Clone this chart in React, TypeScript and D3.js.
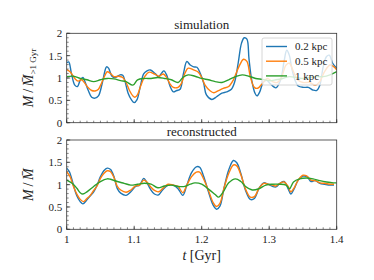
import React, { useEffect, useRef } from "react";
import * as d3 from "d3";

// [t in Gyr, M / mean M]
const simBlue: [number, number][] = [
  [1.0, 1.34], [1.003, 1.36], [1.007, 1.1], [1.012, 0.84], [1.016, 0.81], [1.02, 0.95], [1.024, 1.01],
  [1.027, 0.92], [1.032, 0.72], [1.037, 0.57], [1.042, 0.55], [1.047, 0.6], [1.052, 0.84], [1.057, 1.18],
  [1.059, 1.25], [1.062, 1.22], [1.067, 1.04], [1.072, 1.01], [1.079, 1.07], [1.083, 1.06], [1.086, 0.95],
  [1.091, 0.66], [1.096, 0.51], [1.1, 0.45], [1.104, 0.51], [1.109, 0.81], [1.114, 1.09], [1.119, 1.16],
  [1.124, 1.18], [1.131, 1.1], [1.136, 1.03], [1.141, 1.12], [1.144, 1.16], [1.148, 1.07], [1.153, 0.82],
  [1.158, 0.69], [1.163, 0.72], [1.168, 0.75], [1.173, 1.1], [1.178, 1.37], [1.183, 1.29], [1.188, 1.25],
  [1.193, 1.24], [1.198, 1.1], [1.203, 0.88], [1.207, 0.62], [1.215, 0.52], [1.222, 0.58], [1.23, 0.66],
  [1.237, 0.69], [1.244, 0.75], [1.249, 0.92], [1.254, 1.33], [1.259, 1.78], [1.263, 1.9], [1.267, 1.87],
  [1.27, 1.44], [1.274, 0.96], [1.279, 0.66], [1.282, 0.6], [1.286, 0.69], [1.291, 0.9], [1.296, 0.95],
  [1.301, 0.88], [1.31, 0.78], [1.317, 0.96], [1.322, 1.37], [1.326, 1.62], [1.33, 1.5], [1.333, 1.25],
  [1.338, 0.96], [1.343, 0.82], [1.351, 0.79], [1.358, 0.79], [1.365, 0.73], [1.37, 0.72], [1.375, 0.84],
  [1.38, 1.25], [1.385, 1.48], [1.389, 1.51], [1.394, 1.33], [1.4, 1.22],
];
const simOrange: [number, number][] = [
  [1.0, 1.19], [1.005, 1.14], [1.012, 0.99], [1.017, 0.93], [1.022, 0.96], [1.027, 0.88], [1.032, 0.78],
  [1.037, 0.72], [1.042, 0.71], [1.047, 0.75], [1.052, 0.9], [1.057, 1.07], [1.06, 1.14], [1.065, 1.1],
  [1.07, 1.03], [1.077, 1.04], [1.083, 1.01], [1.088, 0.9], [1.093, 0.72], [1.098, 0.6], [1.101, 0.57],
  [1.105, 0.63], [1.11, 0.84], [1.116, 1.04], [1.122, 1.13], [1.13, 1.09], [1.137, 1.04], [1.143, 1.09],
  [1.148, 1.01], [1.153, 0.87], [1.158, 0.79], [1.165, 0.79], [1.17, 0.88], [1.175, 1.1], [1.18, 1.22],
  [1.188, 1.18], [1.195, 1.13], [1.2, 1.01], [1.205, 0.84], [1.212, 0.72], [1.218, 0.67], [1.225, 0.72],
  [1.232, 0.77], [1.24, 0.81], [1.247, 0.96], [1.255, 1.25], [1.262, 1.42], [1.267, 1.37], [1.272, 1.03],
  [1.278, 0.79], [1.283, 0.77], [1.29, 0.88], [1.297, 0.99], [1.305, 0.92], [1.312, 0.9], [1.318, 1.01],
  [1.325, 1.29], [1.33, 1.33], [1.336, 1.14], [1.342, 0.96], [1.35, 0.9], [1.36, 0.9], [1.368, 0.84],
  [1.375, 0.92], [1.382, 1.14], [1.39, 1.29], [1.396, 1.25], [1.4, 1.18],
];
const simGreen: [number, number][] = [
  [1.0, 1.03], [1.01, 1.04], [1.02, 0.99], [1.03, 0.96], [1.04, 0.92], [1.05, 0.96], [1.06, 0.99],
  [1.07, 0.98], [1.08, 0.94], [1.088, 0.92], [1.098, 0.84], [1.105, 0.96], [1.115, 0.99], [1.125, 0.99],
  [1.135, 1.01], [1.145, 0.99], [1.155, 0.96], [1.165, 0.9], [1.172, 1.01], [1.18, 1.07], [1.19, 1.04],
  [1.2, 0.99], [1.21, 0.96], [1.22, 0.92], [1.23, 0.9], [1.24, 0.96], [1.25, 1.03], [1.26, 1.07],
  [1.27, 1.04], [1.28, 0.99], [1.29, 0.97], [1.3, 0.94], [1.31, 0.96], [1.32, 0.99], [1.33, 1.03],
  [1.34, 1.01], [1.35, 0.99], [1.36, 1.01], [1.37, 1.03], [1.38, 1.03], [1.39, 1.07], [1.4, 1.14],
];

const recBlue: [number, number][] = [
  [1.0, 1.37], [1.004, 1.29], [1.01, 0.99], [1.015, 0.75], [1.02, 0.62], [1.024, 0.57], [1.03, 0.66],
  [1.035, 0.75], [1.04, 0.84], [1.045, 0.99], [1.05, 1.18], [1.055, 1.31], [1.06, 1.37], [1.065, 1.34],
  [1.07, 1.18], [1.075, 0.91], [1.08, 0.81], [1.088, 0.76], [1.095, 0.84], [1.102, 0.96], [1.108, 0.99],
  [1.114, 1.14], [1.118, 1.07], [1.124, 0.9], [1.13, 0.79], [1.136, 0.77], [1.142, 0.88], [1.15, 0.99],
  [1.158, 0.99], [1.165, 0.91], [1.172, 0.76], [1.178, 0.99], [1.185, 1.27], [1.192, 1.4], [1.197, 1.39],
  [1.203, 1.18], [1.21, 0.84], [1.217, 0.54], [1.222, 0.45], [1.227, 0.52], [1.233, 0.92], [1.24, 1.33],
  [1.247, 1.54], [1.252, 1.49], [1.258, 1.25], [1.265, 0.87], [1.272, 0.67], [1.278, 0.69], [1.285, 0.92],
  [1.292, 1.04], [1.298, 1.01], [1.305, 0.96], [1.31, 0.95], [1.316, 1.03], [1.322, 1.07], [1.328, 0.91],
  [1.332, 0.79], [1.337, 0.91], [1.343, 1.1], [1.35, 1.19], [1.356, 1.18], [1.362, 1.07], [1.368, 1.09],
  [1.375, 1.03], [1.382, 1.01], [1.39, 0.99], [1.396, 0.99],
];
const recOrange: [number, number][] = [
  [1.0, 1.29], [1.005, 1.18], [1.01, 0.96], [1.015, 0.79], [1.02, 0.67], [1.025, 0.62], [1.03, 0.69],
  [1.035, 0.76], [1.04, 0.87], [1.045, 0.97], [1.05, 1.14], [1.055, 1.25], [1.06, 1.31], [1.065, 1.29],
  [1.07, 1.16], [1.075, 0.96], [1.08, 0.88], [1.088, 0.83], [1.095, 0.88], [1.102, 0.97], [1.108, 0.99],
  [1.114, 1.1], [1.118, 1.07], [1.124, 0.96], [1.13, 0.87], [1.136, 0.84], [1.142, 0.91], [1.15, 1.01],
  [1.158, 0.99], [1.165, 0.96], [1.172, 0.82], [1.178, 0.99], [1.185, 1.18], [1.192, 1.28], [1.197, 1.28],
  [1.203, 1.12], [1.21, 0.87], [1.217, 0.6], [1.222, 0.51], [1.227, 0.58], [1.233, 0.92], [1.24, 1.25],
  [1.247, 1.44], [1.252, 1.42], [1.258, 1.22], [1.265, 0.9], [1.272, 0.72], [1.278, 0.73], [1.285, 0.92],
  [1.292, 1.03], [1.298, 1.01], [1.305, 0.99], [1.31, 0.97], [1.316, 1.03], [1.322, 1.06], [1.328, 0.96],
  [1.332, 0.84], [1.337, 0.93], [1.343, 1.1], [1.35, 1.21], [1.356, 1.19], [1.362, 1.1], [1.368, 1.09],
  [1.375, 1.04], [1.382, 1.03], [1.39, 1.01], [1.396, 1.01],
];
const recGreen: [number, number][] = [
  [1.0, 1.1], [1.008, 1.03], [1.015, 0.92], [1.02, 0.82], [1.024, 0.79], [1.03, 0.84], [1.04, 0.96],
  [1.05, 1.07], [1.06, 1.13], [1.065, 1.12], [1.075, 1.07], [1.085, 1.03], [1.095, 0.99], [1.105, 1.01],
  [1.115, 1.03], [1.125, 1.01], [1.135, 0.93], [1.145, 0.97], [1.155, 0.99], [1.165, 0.96], [1.175, 0.96],
  [1.183, 1.01], [1.19, 1.04], [1.2, 1.01], [1.21, 0.9], [1.22, 0.78], [1.225, 0.72], [1.232, 0.84],
  [1.24, 1.04], [1.25, 1.13], [1.258, 1.07], [1.265, 0.96], [1.275, 0.88], [1.285, 0.91], [1.295, 0.99],
  [1.305, 1.01], [1.315, 1.01], [1.325, 0.99], [1.33, 0.91], [1.336, 1.06], [1.345, 1.13], [1.355, 1.15],
  [1.365, 1.13], [1.375, 1.09], [1.385, 1.06], [1.395, 1.04], [1.4, 1.04],
];

const seriesNames = ["0.2 kpc", "0.5 kpc", "1 kpc"];
const colors = ["#1f77b4", "#ff7f0e", "#2ca02c"];
const xTicks = [1, 1.1, 1.2, 1.3, 1.4];
const yTicks = [0, 0.5, 1, 1.5, 2];

const FONT = "'Liberation Serif', 'DejaVu Serif', serif";

const App = () => {
  const ref = useRef<SVGSVGElement>(null);

  useEffect(() => {
    const svg = d3.select(ref.current);
    svg.selectAll("*").remove();

    const left = 66.7;
    const right = 336.7;
    const x = d3.scaleLinear().domain([1, 1.4]).range([left, right]);

    const panels = [
      { top: 33.3, bottom: 122.7, title: "simulation", data: [simBlue, simOrange, simGreen], labels: false },
      { top: 140, bottom: 229.3, title: "reconstructed", data: [recBlue, recOrange, recGreen], labels: true },
    ];

    panels.forEach((p, pi) => {
      const y = d3.scaleLinear().domain([0, 2]).range([p.bottom, p.top]);
      const g = svg.append("g");

      g.append("clipPath")
        .attr("id", "clip" + pi)
        .append("rect")
        .attr("x", left)
        .attr("y", p.top)
        .attr("width", right - left)
        .attr("height", p.bottom - p.top);

      const line = d3
        .line<[number, number]>()
        .x((d) => x(d[0]))
        .y((d) => y(d[1]))
        .curve(d3.curveCatmullRom.alpha(0.5));

      p.data.forEach((s, i) => {
        g.append("path")
          .attr("d", line(s))
          .attr("fill", "none")
          .attr("stroke", colors[i])
          .attr("stroke-width", 1.4)
          .attr("clip-path", `url(#clip${pi})`);
      });

      // minor + major ticks, pointing inward
      const xMinor = d3.range(1, 1.4001, 0.01);
      g.selectAll(".xminor")
        .data(xMinor)
        .enter()
        .append("line")
        .attr("x1", (d) => x(d))
        .attr("x2", (d) => x(d))
        .attr("y1", p.bottom)
        .attr("y2", p.bottom - 2)
        .attr("stroke", "#333")
        .attr("stroke-width", 0.6);
      g.selectAll(".xmajor")
        .data(xTicks)
        .enter()
        .append("line")
        .attr("x1", (d) => x(d))
        .attr("x2", (d) => x(d))
        .attr("y1", p.bottom)
        .attr("y2", p.bottom - 3.5)
        .attr("stroke", "#333")
        .attr("stroke-width", 0.8);

      const yMinor = d3.range(0, 2.001, 0.1);
      g.selectAll(".yminor")
        .data(yMinor)
        .enter()
        .append("line")
        .attr("x1", left)
        .attr("x2", left + 2)
        .attr("y1", (d) => y(d))
        .attr("y2", (d) => y(d))
        .attr("stroke", "#333")
        .attr("stroke-width", 0.6);
      g.selectAll(".ymajor")
        .data(yTicks)
        .enter()
        .append("line")
        .attr("x1", left)
        .attr("x2", left + 3.5)
        .attr("y1", (d) => y(d))
        .attr("y2", (d) => y(d))
        .attr("stroke", "#333")
        .attr("stroke-width", 0.8);

      g.selectAll(".ylab")
        .data(yTicks)
        .enter()
        .append("text")
        .attr("x", left - 4.5)
        .attr("y", (d) => y(d))
        .attr("dy", "0.35em")
        .attr("text-anchor", "end")
        .attr("font-family", FONT)
        .attr("font-size", 11)
        .attr("fill", "#222")
        .text((d) => d3.format("")(d));

      if (p.labels) {
        g.selectAll(".xlab")
          .data(xTicks)
          .enter()
          .append("text")
          .attr("x", (d) => x(d))
          .attr("y", p.bottom + 14)
          .attr("text-anchor", "middle")
          .attr("font-family", FONT)
          .attr("font-size", 11)
          .attr("fill", "#222")
          .text((d) => d3.format("")(d));
      }

      g.append("rect")
        .attr("x", left)
        .attr("y", p.top)
        .attr("width", right - left)
        .attr("height", p.bottom - p.top)
        .attr("fill", "none")
        .attr("stroke", "#333")
        .attr("stroke-width", 0.8);

      g.append("text")
        .attr("x", (left + right) / 2)
        .attr("y", p.top - 4)
        .attr("text-anchor", "middle")
        .attr("font-family", FONT)
        .attr("font-size", 13)
        .attr("fill", "#222")
        .text(p.title);

      // y label
      const cy = (p.top + p.bottom) / 2;
      const yl = g
        .append("text")
        .attr("transform", `translate(33,${cy}) rotate(-90)`)
        .attr("text-anchor", "middle")
        .attr("font-family", FONT)
        .attr("font-size", 14)
        .attr("fill", "#222");
      yl.append("tspan").attr("font-style", "italic").text("M");
      yl.append("tspan").text("\u2009/\u2009");
      yl.append("tspan").attr("font-style", "italic").text("M\u0304");
      if (pi === 0) {
        yl.append("tspan").attr("font-size", 9).attr("dy", 3).text(">1 Gyr");
      }

      // legend
      if (pi === 0) {
        const lg = svg.append("g").attr("transform", "translate(262,38)");
        lg.append("rect")
          .attr("width", 70)
          .attr("height", 47)
          .attr("rx", 2)
          .attr("fill", "white")
          .attr("fill-opacity", 0.8)
          .attr("stroke", "#ccc")
          .attr("stroke-width", 0.8);
        seriesNames.forEach((n, i) => {
          lg.append("line")
            .attr("x1", 4)
            .attr("x2", 25)
            .attr("y1", 8.5 + i * 14.7)
            .attr("y2", 8.5 + i * 14.7)
            .attr("stroke", colors[i])
            .attr("stroke-width", 1.4);
          lg.append("text")
            .attr("x", 33)
            .attr("y", 8.5 + i * 14.7)
            .attr("dy", "0.35em")
            .attr("font-family", FONT)
            .attr("font-size", 11)
            .attr("fill", "#222")
            .text(n);
        });
      }
    });

    const xl = svg
      .append("text")
      .attr("x", (left + right) / 2)
      .attr("y", 260)
      .attr("text-anchor", "middle")
      .attr("font-family", FONT)
      .attr("font-size", 14)
      .attr("fill", "#222");
    xl.append("tspan").attr("font-style", "italic").text("t");
    xl.append("tspan").text(" [Gyr]");
  }, []);

  return (
    <div style={{ position: "absolute", left: 0, top: 0 }}>
      <svg ref={ref} width="374" height="280" style={{ display: "block", background: "white" }}></svg>
    </div>
  );
};

export default App;
